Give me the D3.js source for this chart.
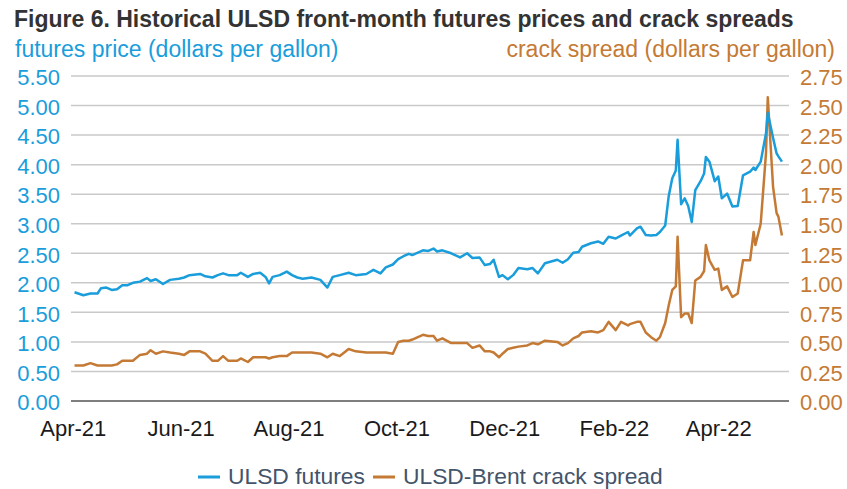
<!DOCTYPE html>
<html>
<head>
<meta charset="utf-8">
<script src="https://cdn.jsdelivr.net/npm/d3@7"></script>
<style>
  html, body { margin: 0; padding: 0; background: #fff; overflow: hidden; }
  svg { display: block; }
  text { font-family: "Liberation Sans", Arial, sans-serif; }
</style>
</head>
<body>
<script>
const width = 847,
  height = 489;
const margin = { top: 76, right: 58, bottom: 88, left: 71 };
const innerWidth = width - margin.left - margin.right;
const innerHeight = height - margin.top - margin.bottom;

// trading dates
const dates = [
  "2021-04-02", "2021-04-07", "2021-04-11", "2021-04-15", "2021-04-17", "2021-04-20",
  "2021-04-23", "2021-04-26", "2021-04-29", "2021-05-02", "2021-05-05", "2021-05-09",
  "2021-05-13", "2021-05-15", "2021-05-18", "2021-05-22", "2021-05-26", "2021-05-31",
  "2021-06-03", "2021-06-06", "2021-06-12", "2021-06-15", "2021-06-19", "2021-06-22",
  "2021-06-25", "2021-06-28", "2021-07-03", "2021-07-05", "2021-07-09", "2021-07-12",
  "2021-07-16", "2021-07-19", "2021-07-21", "2021-07-23", "2021-07-27", "2021-07-31",
  "2021-08-03", "2021-08-06", "2021-08-09", "2021-08-14", "2021-08-19", "2021-08-23",
  "2021-08-26", "2021-08-30", "2021-09-04", "2021-09-08", "2021-09-14", "2021-09-18",
  "2021-09-22", "2021-09-25", "2021-09-29", "2021-10-02", "2021-10-05", "2021-10-08",
  "2021-10-10", "2021-10-16", "2021-10-19", "2021-10-22", "2021-10-24", "2021-10-27",
  "2021-11-01", "2021-11-06", "2021-11-10", "2021-11-13", "2021-11-17", "2021-11-20",
  "2021-11-23", "2021-11-25", "2021-11-28", "2021-11-30", "2021-12-03", "2021-12-06",
  "2021-12-09", "2021-12-14", "2021-12-17", "2021-12-20", "2021-12-24", "2021-12-31",
  "2022-01-03", "2022-01-06", "2022-01-09", "2022-01-12", "2022-01-14", "2022-01-19",
  "2022-01-23", "2022-01-26", "2022-01-29", "2022-02-02", "2022-02-05", "2022-02-09",
  "2022-02-10", "2022-02-14", "2022-02-16", "2022-02-19", "2022-02-22", "2022-02-25",
  "2022-02-27", "2022-03-02", "2022-03-04", "2022-03-06", "2022-03-08", "2022-03-09",
  "2022-03-11", "2022-03-13", "2022-03-15", "2022-03-17", "2022-03-19", "2022-03-22",
  "2022-03-24", "2022-03-25", "2022-03-27", "2022-03-30", "2022-04-01", "2022-04-03",
  "2022-04-06", "2022-04-09", "2022-04-12", "2022-04-15", "2022-04-19", "2022-04-21",
  "2022-04-22", "2022-04-25", "2022-04-28", "2022-04-29", "2022-05-02", "2022-05-04",
  "2022-05-05", "2022-05-07"
];

// ULSD front-month futures, dollars per gallon
const futures = [
  1.84, 1.79, 1.82, 1.82, 1.91, 1.92, 1.88, 1.89, 1.96, 1.96, 2.00, 2.02,
  2.08, 2.03, 2.06, 1.98, 2.05, 2.07, 2.09, 2.13, 2.15, 2.11, 2.09, 2.13,
  2.16, 2.13, 2.13, 2.17, 2.10, 2.15, 2.17, 2.10, 1.99, 2.10, 2.13, 2.19,
  2.13, 2.09, 2.07, 2.09, 2.05, 1.92, 2.10, 2.13, 2.17, 2.13, 2.15, 2.22,
  2.16, 2.26, 2.31, 2.40, 2.45, 2.49, 2.47, 2.55, 2.54, 2.58, 2.53, 2.55,
  2.50, 2.43, 2.50, 2.42, 2.43, 2.30, 2.32, 2.39, 2.10, 2.13, 2.06, 2.13,
  2.25, 2.23, 2.25, 2.16, 2.33, 2.39, 2.34, 2.40, 2.51, 2.52, 2.61, 2.67,
  2.70, 2.66, 2.78, 2.75, 2.80, 2.86, 2.80, 2.92, 2.95, 2.81, 2.80, 2.81,
  2.86, 2.97, 3.47, 3.77, 3.90, 4.42, 3.33, 3.43, 3.30, 3.03, 3.57, 3.72,
  3.85, 4.13, 4.05, 3.72, 3.80, 3.43, 3.51, 3.29, 3.30, 3.82, 3.88, 3.95,
  3.91, 4.05, 4.53, 4.88, 4.45, 4.19, 4.14, 4.05
];

// ULSD-Brent crack spread, dollars per gallon
const crack = [
  0.30, 0.30, 0.32, 0.30, 0.30, 0.30, 0.30, 0.31, 0.34, 0.34, 0.34, 0.39,
  0.40, 0.43, 0.40, 0.42, 0.41, 0.40, 0.39, 0.42, 0.42, 0.40, 0.34, 0.34,
  0.38, 0.34, 0.34, 0.36, 0.33, 0.37, 0.37, 0.37, 0.36, 0.37, 0.38, 0.38,
  0.41, 0.41, 0.41, 0.41, 0.40, 0.37, 0.40, 0.38, 0.44, 0.42, 0.41, 0.41,
  0.41, 0.41, 0.40, 0.50, 0.51, 0.51, 0.52, 0.56, 0.55, 0.55, 0.51, 0.53,
  0.49, 0.49, 0.49, 0.45, 0.47, 0.42, 0.42, 0.41, 0.37, 0.40, 0.44, 0.45,
  0.46, 0.47, 0.49, 0.48, 0.51, 0.50, 0.47, 0.49, 0.53, 0.55, 0.58, 0.59,
  0.58, 0.60, 0.67, 0.60, 0.67, 0.64, 0.65, 0.67, 0.67, 0.58, 0.54, 0.51,
  0.54, 0.66, 0.81, 0.94, 0.97, 1.39, 0.71, 0.74, 0.74, 0.66, 1.02, 1.05,
  1.10, 1.32, 1.19, 1.11, 1.12, 0.94, 0.97, 0.88, 0.91, 1.19, 1.19, 1.43,
  1.32, 1.50, 2.10, 2.57, 1.81, 1.59, 1.56, 1.40
];

const leftTicks = [0, 0.5, 1, 1.5, 2, 2.5, 3, 3.5, 4, 4.5, 5, 5.5];
const rightTicks = [0, 0.25, 0.5, 0.75, 1, 1.25, 1.5, 1.75, 2, 2.25, 2.5, 2.75];
const monthTicks = ["2021-04-01", "2021-06-01", "2021-08-01", "2021-10-01",
  "2021-12-01", "2022-02-01", "2022-04-01"];

const blue = "#1a9ddb";
const orange = "#c47a35";

const parse = d3.timeParse("%Y-%m-%d");
const fmtMonth = d3.timeFormat("%b-%y");

const data = dates.map((d, i) => ({ date: parse(d), f: futures[i], c: crack[i] }));

const xScale = d3
  .scaleTime()
  .domain([parse("2021-03-31"), parse("2022-05-11")])
  .range([0, innerWidth]);

const yLeft = d3.scaleLinear().domain([0, 5.5]).range([innerHeight, 0]);
const yRight = d3.scaleLinear().domain([0, 2.75]).range([innerHeight, 0]);

const svg = d3
  .select("body")
  .append("svg")
  .attr("width", width)
  .attr("height", height);

// title + axis titles
svg.append("text")
  .attr("x", 14)
  .attr("y", 27)
  .attr("font-size", 23)
  .attr("font-weight", "bold")
  .attr("fill", "#333")
  .text("Figure 6. Historical ULSD front-month futures prices and crack spreads");

svg.append("text")
  .attr("x", 15)
  .attr("y", 57)
  .attr("font-size", 23)
  .attr("fill", blue)
  .text("futures price (dollars per gallon)");

svg.append("text")
  .attr("x", 835)
  .attr("y", 57)
  .attr("font-size", 23)
  .attr("text-anchor", "end")
  .attr("fill", orange)
  .text("crack spread (dollars per gallon)");

const mainG = svg
  .append("g")
  .attr("transform", `translate(${margin.left},${margin.top})`);

// gridlines
mainG.append("g")
  .selectAll("line")
  .data(leftTicks.slice(1))
  .enter()
  .append("line")
  .attr("x1", 0)
  .attr("x2", innerWidth)
  .attr("y1", d => yLeft(d))
  .attr("y2", d => yLeft(d))
  .attr("stroke", "#c9c9c9")
  .attr("stroke-width", 1.5);

// left axis
const yAxisL = d3.axisLeft(yLeft).tickValues(leftTicks).tickFormat(d3.format(".2f")).tickSize(0).tickPadding(11);
const gL = mainG.append("g").call(yAxisL);
gL.select(".domain").remove();
gL.selectAll("text")
  .attr("font-size", 22)
  .attr("fill", blue)
  .attr("dy", "0.4em");

// right axis
const yAxisR = d3.axisRight(yRight).tickValues(rightTicks).tickFormat(d3.format(".2f")).tickSize(0).tickPadding(11);
const gR = mainG.append("g").attr("transform", `translate(${innerWidth},0)`).call(yAxisR);
gR.select(".domain").remove();
gR.selectAll("text")
  .attr("font-size", 22)
  .attr("fill", orange)
  .attr("dy", "0.4em");

// x axis
const xAxis = d3.axisBottom(xScale)
  .tickValues(monthTicks.map(parse))
  .tickFormat(fmtMonth)
  .tickSize(0)
  .tickPadding(19);
const gX = mainG.append("g").attr("transform", `translate(0,${innerHeight})`).call(xAxis);
gX.select(".domain").remove();
gX.selectAll("text")
  .attr("font-size", 22)
  .attr("fill", "#1a1a1a");

// zero line
mainG.append("line")
  .attr("x1", 0)
  .attr("x2", innerWidth)
  .attr("y1", yLeft(0))
  .attr("y2", yLeft(0))
  .attr("stroke", "#555")
  .attr("stroke-width", 1.5);

// lines
const lineF = d3.line().x(d => xScale(d.date)).y(d => yLeft(d.f));
const lineC = d3.line().x(d => xScale(d.date)).y(d => yRight(d.c));

mainG.append("path")
  .datum(data)
  .attr("fill", "none")
  .attr("stroke", orange)
  .attr("stroke-width", 2.5)
  .attr("stroke-linejoin", "round")
  .attr("d", lineC);

mainG.append("path")
  .datum(data)
  .attr("fill", "none")
  .attr("stroke", blue)
  .attr("stroke-width", 2.5)
  .attr("stroke-linejoin", "round")
  .attr("d", lineF);

// legend
const legend = [
  { label: "ULSD futures", color: blue, x: 198 },
  { label: "ULSD-Brent crack spread", color: orange, x: 373 }
];
const lg = svg.append("g").selectAll("g").data(legend).enter().append("g")
  .attr("transform", d => `translate(${d.x},477)`);
lg.append("line")
  .attr("x1", 0).attr("x2", 22)
  .attr("stroke", d => d.color)
  .attr("stroke-width", 3);
lg.append("text")
  .attr("x", 30)
  .attr("y", 7)
  .attr("font-size", 22.8)
  .attr("fill", "#44546a")
  .text(d => d.label);
</script>
</body>
</html>
